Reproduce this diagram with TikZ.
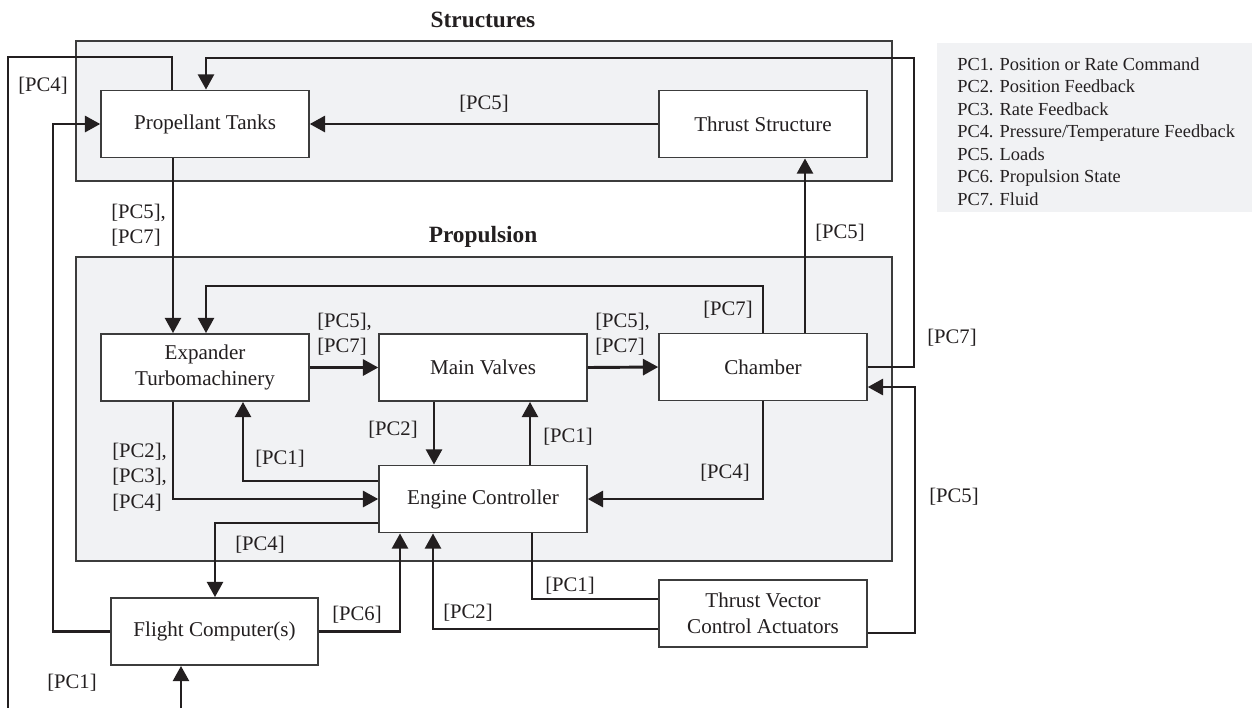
\documentclass[tikz,border=0pt]{standalone}
\usepackage{fontspec}
\setmainfont{Liberation Serif}
\usetikzlibrary{arrows.meta}
\definecolor{ink}{HTML}{231F20}
\definecolor{panel}{HTML}{F1F2F4}
\definecolor{edge}{HTML}{3C3C3C}

\begin{document}
\begin{tikzpicture}[x=0.75pt,y=-0.75pt,
  box/.style={draw=edge, line width=1.1pt, fill=white, text=ink, align=center,
    minimum width=156pt, minimum height=50.5pt, inner sep=0pt,
    font=\fontsize{15.8}{19.2}\selectfont},
  group/.style={draw=edge, line width=1.1pt, fill=panel},
  wire/.style={draw=ink, line width=2.2pt},
  flow/.style={wire, -{Triangle[length=11.5pt,width=12pt]}},
  lbl/.style={text=ink, font=\fontsize{15.5}{19}\selectfont, inner sep=0pt, align=left},
  heading/.style={text=ink, font=\fontsize{17.5}{21}\selectfont\bfseries, inner sep=0pt}]

\useasboundingbox (0,0) rectangle (1252,708);

% subsystem panels
\draw[group] (76,41) rectangle (892,181);
\draw[group] (76,257) rectangle (892,561);
\node[heading] (hstruct) at (483,20) {Structures};
\node[heading] (hprop) at (483,237) {Propulsion};

% legend
\fill[panel] (937,43) rectangle (1252,212);
\node[anchor=west, align=left, text=ink, inner sep=0pt,
      font=\fontsize{13.8}{16.9}\selectfont] (legend) at (957,131.5)
  {PC1. Position or Rate Command\\
   PC2. Position Feedback\\
   PC3. Rate Feedback\\
   PC4. Pressure/Temperature Feedback\\
   PC5. Loads\\
   PC6. Propulsion State\\
   PC7. Fluid};

% components
\node[box] (pt)  at (205,124)   {Propellant Tanks};
\node[box] (ts)  at (763,124)   {Thrust Structure};
\node[box] (et)  at (205,367.5) {Expander\\Turbomachinery};
\node[box] (mv)  at (483,367.5) {Main Valves};
\node[box] (ch)  at (763,367)   {Chamber};
\node[box] (ec)  at (483,499)   {Engine Controller};
\node[box, minimum width=155pt] (fc) at (214.5,631.5) {Flight Computer(s)};
\node[box] (tvc) at (763,613.5) {Thrust Vector\\Control Actuators};

% free ends at the lower edge
\coordinate (offpt) at (8,708);
\coordinate (infc) at (181,708);

% connectors
\draw[flow] (ts.west) -- (pt.east);
\draw[flow] (pt.south -| 173,0) -- (et.north -| 173,0);
\draw[flow] (ch.east) -| (914,58) -| (pt.north -| 206,0);
\draw[wire] (pt.north -| 172,0) |- (8,57) -- (offpt);
\draw[flow] (fc.west) -| (53,124) -- (pt.west);
\draw[flow] (infc) -- (fc.south -| 181,0);
\draw[flow] (et.east) -- (mv.west);
\draw[flow] (mv.east) -- (ch.west);
\draw[flow] (ch.north) |- (206,286) -- (et.north -| 206,0);
\draw[flow] (ch.north -| 805,0) -- (ts.south -| 805,0);
\draw[flow] (mv.south -| 434,0) -- (ec.north -| 434,0);
\draw[flow] (ec.north -| 530,0) -- (mv.south -| 530,0);
\draw[flow] (ch.south) |- (ec.east);
\draw[flow] (et.south -| 173,0) |- (ec.west);
\draw[flow] (ec.west |- 0,481) -| (et.south -| 243,0);
\draw[flow] (ec.west |- 0,523) -| (fc.north -| 215,0);
\draw[flow] (fc.east) -| (ec.south -| 400,0);
\draw[wire] (ec.south -| 532,0) |- (tvc.west |- 0,599);
\draw[flow] (tvc.west |- 0,629) -| (ec.south -| 433,0);
\draw[flow] (tvc.east |- 0,633) -| (915,387) -- (ch.east |- 0,387);

% connector labels
\node[lbl] (l1)  at (484,104) {[PC5]};
\node[lbl, anchor=west] (l2) at (111,225) {[PC5],\\{}[PC7]};
\node[lbl] (l3)  at (952,338) {[PC7]};
\node[lbl] (l4)  at (43,86)   {[PC4]};
\node[lbl] (l5)  at (72,683)  {[PC1]};
\node[lbl, anchor=west] (l6) at (317,334) {[PC5],\\{}[PC7]};
\node[lbl, anchor=west] (l7) at (595,334) {[PC5],\\{}[PC7]};
\node[lbl] (l8)  at (728,310) {[PC7]};
\node[lbl] (l9)  at (840,233) {[PC5]};
\node[lbl] (l10) at (393,430) {[PC2]};
\node[lbl] (l11) at (568,437) {[PC1]};
\node[lbl] (l12) at (725,473) {[PC4]};
\node[lbl, anchor=west] (l13) at (112,477) {[PC2],\\{}[PC3],\\{}[PC4]};
\node[lbl] (l14) at (280,459) {[PC1]};
\node[lbl] (l15) at (260,545) {[PC4]};
\node[lbl] (l16) at (357,615) {[PC6]};
\node[lbl] (l17) at (570,586) {[PC1]};
\node[lbl] (l18) at (468,613) {[PC2]};
\node[lbl] (l19) at (954,497) {[PC5]};
\end{tikzpicture}
\end{document}
